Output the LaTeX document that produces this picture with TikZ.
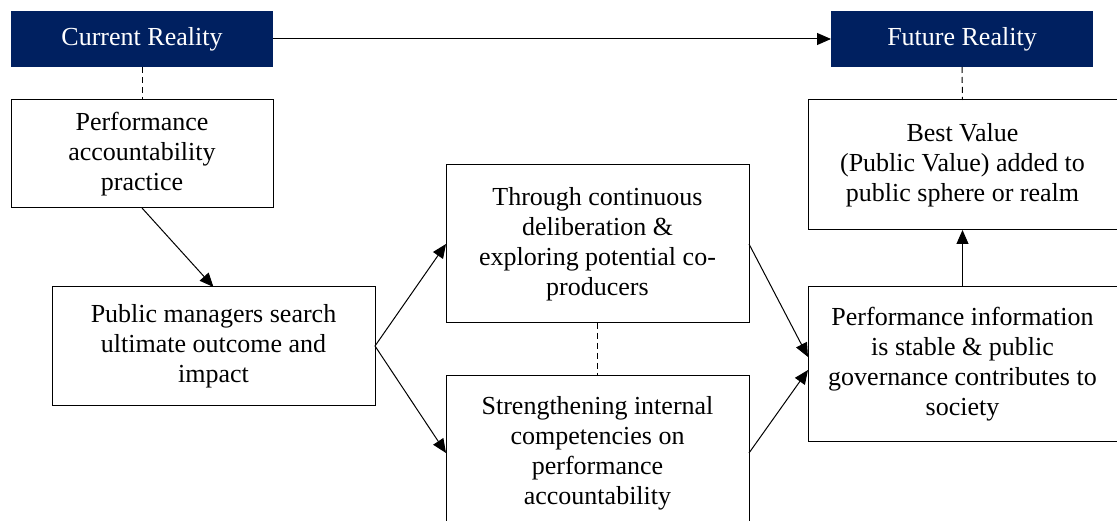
\documentclass[tikz,border=0pt]{standalone}
\usepackage{fontspec}
\setmainfont{Liberation Serif}
\usetikzlibrary{arrows.meta,calc}
\definecolor{navy}{HTML}{002060}
\begin{document}
\begin{tikzpicture}[x=1pt,y=-1pt,
  every node/.style={inner sep=0pt,outer sep=0pt,align=center,font=\fontsize{26}{30}\selectfont},
  headbox/.style={fill=navy,text=white,minimum width=262pt,minimum height=56pt},
  plainbox/.style={draw=black,line width=1pt,fill=white},
  conn/.style={line width=1pt,-{Triangle[length=14pt,width=12pt]}},
  dashconn/.style={line width=1pt,dash pattern=on 6pt off 4pt}]
\useasboundingbox (0,0) rectangle (1117,521);
\node[headbox] (cr) at (142,39) {Current Reality};
\node[headbox] (fr) at (962,39) {Future Reality};
\node[plainbox,minimum width=262pt,minimum height=108pt] (pap) at (142,154) {Performance\\accountability\\practice};
\node[plainbox,minimum width=309pt,minimum height=130pt] (bv) at (962.5,165) {Best Value\\(Public Value) added to\\public sphere or realm};
\node[plainbox,minimum width=323pt,minimum height=118pt] (pm) at (213.5,346) {Public managers search\\ultimate outcome and\\impact};
\node[plainbox,minimum width=303pt,minimum height=158pt] (tc) at (597.5,244) {Through continuous\\deliberation \&\\exploring potential co-\\producers};
\node[plainbox,minimum width=303pt,minimum height=154pt] (si) at (597.5,453) {Strengthening internal\\competencies on\\performance\\accountability};
\node[plainbox,minimum width=309pt,minimum height=154pt] (pi) at (962.5,364) {Performance information\\is stable \& public\\governance contributes to\\society};
\draw[conn] (cr.east) -- (fr.west);
\draw[dashconn] (cr.south) -- (pap.north);
\draw[dashconn] (fr.south) -- (bv.north);
\draw[dashconn] (tc.south) -- (si.north);
\draw[conn] (pap.south) -- (pm.north);
\draw[conn] (pm.east) -- (tc.west);
\draw[conn] (pm.east) -- (si.west);
\draw[conn] (tc.east) -- ($(pi.west)+(0,-7)$);
\draw[conn] (si.east) -- ($(pi.west)+(0,6)$);
\draw[conn] (pi.north) -- (bv.south);
\end{tikzpicture}
\end{document}
